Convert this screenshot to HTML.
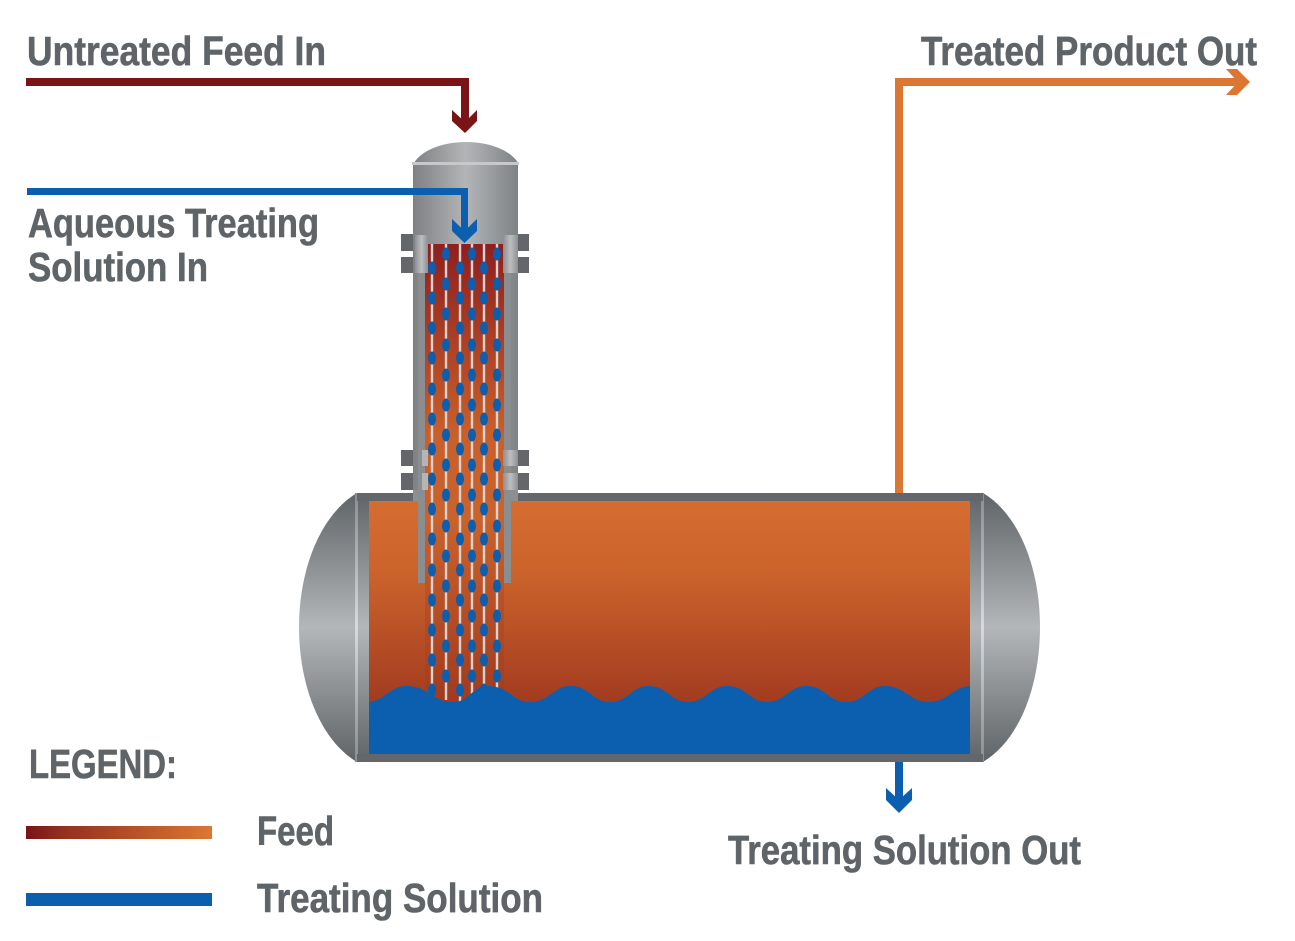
<!DOCTYPE html>
<html>
<head>
<meta charset="utf-8">
<style>
html,body{margin:0;padding:0;background:#fff;}
svg{display:block;}
text{font-family:"Liberation Sans",sans-serif;font-weight:700;font-size:41px;fill:#5f6468;stroke:#5f6468;stroke-width:.6px;}
</style>
</head>
<body>
<svg width="1295" height="941" viewBox="0 0 1295 941" xmlns="http://www.w3.org/2000/svg">
<defs>
<linearGradient id="cap" x1="0" y1="493" x2="0" y2="762" gradientUnits="userSpaceOnUse">
<stop offset="0" stop-color="#5f6468"/><stop offset=".5" stop-color="#b4b7b9"/><stop offset="1" stop-color="#5f6468"/>
</linearGradient>
<linearGradient id="hl" x1="0" y1="493" x2="0" y2="762" gradientUnits="userSpaceOnUse">
<stop offset="0" stop-color="#8a8e91"/><stop offset=".5" stop-color="#d8dadb"/><stop offset="1" stop-color="#8a8e91"/>
</linearGradient>
<linearGradient id="col" x1="414" y1="0" x2="518" y2="0" gradientUnits="userSpaceOnUse">
<stop offset="0" stop-color="#7f8285"/><stop offset=".5" stop-color="#b3b5b7"/><stop offset="1" stop-color="#7f8285"/>
</linearGradient>
<linearGradient id="tank" x1="0" y1="501" x2="0" y2="705" gradientUnits="userSpaceOnUse">
<stop offset="0" stop-color="#d56c30"/><stop offset=".35" stop-color="#cb632c"/><stop offset="1" stop-color="#a23b1f"/>
</linearGradient>
<linearGradient id="inner" x1="0" y1="244" x2="0" y2="700" gradientUnits="userSpaceOnUse">
<stop offset="0" stop-color="#8f1f1e"/><stop offset=".42" stop-color="#c95f2a"/><stop offset=".6" stop-color="#ca622c"/><stop offset="1" stop-color="#a23b1f"/>
</linearGradient>
<linearGradient id="legend" x1="26" y1="0" x2="212" y2="0" gradientUnits="userSpaceOnUse">
<stop offset="0" stop-color="#7a1416"/><stop offset=".2" stop-color="#94301f"/><stop offset="1" stop-color="#dc7733"/>
</linearGradient>
<linearGradient id="fl" x1="0" y1="0" x2="1" y2="0">
<stop offset="0" stop-color="#8d9093"/><stop offset=".5" stop-color="#bdbfc1"/><stop offset="1" stop-color="#8d9093"/>
</linearGradient>
<clipPath id="inclip"><rect x="425" y="244" width="79" height="470"/></clipPath>
<ellipse id="d" rx="4" ry="6.500" fill="#0b5fae"/>
<g id="a">
<use href="#d" y="268"/><use href="#d" y="298"/><use href="#d" y="328"/><use href="#d" y="358"/><use href="#d" y="389"/><use href="#d" y="419"/><use href="#d" y="449"/><use href="#d" y="479"/><use href="#d" y="509"/><use href="#d" y="539"/><use href="#d" y="570"/><use href="#d" y="600"/><use href="#d" y="630"/><use href="#d" y="660"/><use href="#d" y="690"/>
</g>
<g id="b">
<use href="#d" y="254"/><use href="#d" y="284"/><use href="#d" y="314"/><use href="#d" y="345"/><use href="#d" y="375"/><use href="#d" y="405"/><use href="#d" y="435"/><use href="#d" y="465"/><use href="#d" y="495"/><use href="#d" y="526"/><use href="#d" y="556"/><use href="#d" y="586"/><use href="#d" y="616"/><use href="#d" y="646"/><use href="#d" y="676"/>
</g>
</defs>

<!-- Flanges -->
<g fill="#63676b">
<rect x="401" y="234" width="16" height="17"/><rect x="401" y="257" width="16" height="16"/>
<rect x="515" y="234" width="14" height="17"/><rect x="515" y="257" width="14" height="16"/>
<rect x="401" y="450" width="16" height="16"/><rect x="401" y="473" width="16" height="17"/>
<rect x="515" y="450" width="14" height="16"/><rect x="515" y="473" width="14" height="17"/>
</g>

<!-- Column -->
<rect x="413" y="163" width="105" height="332" fill="url(#col)"/>
<path d="M414 163C420 152 440 142 466 142C492 142 512 152 518 163Z" fill="url(#col)"/>
<rect x="412" y="162" width="107" height="3" fill="#c6c8c9"/>

<!-- Tank caps -->
<path d="M357 493C320 515 299 570 299 627C299 685 320 740 357 762Z" fill="url(#cap)"/>
<path d="M983 493C1020 515 1040 570 1040 627C1040 685 1020 740 983 762Z" fill="url(#cap)"/>
<rect x="357" y="493" width="13" height="269" fill="url(#cap)"/>
<rect x="970" y="493" width="13" height="269" fill="url(#cap)"/>
<rect x="355" y="493" width="3" height="269" fill="url(#hl)"/>
<rect x="981" y="493" width="3" height="269" fill="url(#hl)"/>

<!-- Tank body -->
<rect x="357" y="493" width="626" height="8" fill="#63676c"/>
<rect x="357" y="754" width="626" height="8" fill="#63676c"/>
<rect x="369" y="501" width="601" height="253" fill="url(#tank)"/>

<!-- Column lower wall over tank top stripe -->
<rect x="413" y="490" width="12" height="11" fill="#8d9093"/>
<rect x="504" y="490" width="14" height="11" fill="#8d9093"/>

<!-- Column interior -->
<rect x="425" y="244" width="79" height="470" fill="url(#inner)"/>
<rect x="418" y="273" width="7" height="310" fill="#8b8e91"/>
<rect x="504" y="273" width="7" height="310" fill="#8b8e91"/>

<!-- Flange collars -->
<rect x="415" y="235" width="13" height="38" fill="url(#fl)"/>
<rect x="503" y="235" width="15" height="38" fill="url(#fl)"/>
<rect x="422" y="450" width="6" height="16" fill="#b3b5b7"/>
<rect x="422" y="473" width="6" height="17" fill="#b3b5b7"/>
<rect x="503" y="450" width="15" height="16" fill="url(#fl)"/>
<rect x="503" y="473" width="15" height="17" fill="url(#fl)"/>

<!-- Droplet lines -->
<g clip-path="url(#inclip)">
<path d="M432 244V700M446 244V700M460 244V704M472 244V700M484 244V700M497 244V700" stroke="#d9d3d0" stroke-width="2.4" fill="none"/>
<use href="#a" x="432"/>
<use href="#b" x="446"/>
<use href="#a" x="460"/>
<use href="#b" x="472"/>
<use href="#a" x="484"/>
<use href="#b" x="497"/>
</g>

<!-- Liquid -->
<path d="M369 702C385 700 390 686 407 686C428 686 432 702 453 702C470 702 472 686 487 686C510 686 512 702 530 702C550 702 553 686 570 686C590 686 592 702 610 702C628 702 632 686 648 686C668 686 670 702 688 702C706 702 710 686 727 686C747 686 749 702 767 702C785 702 789 686 806 686C826 686 828 702 846 702C864 702 868 686 885 686C905 686 910 702 928 702C948 702 952 687 970 686V754H369Z" fill="#0b5fae"/>

<!-- Feed in -->
<path d="M26 78H469V124H461V86H26Z" fill="#7a1416"/>
<path d="M452 110L465 122L477 110V121L465 133L452 121Z" fill="#7a1416"/>

<!-- Aqueous in -->
<path d="M27 188H468V232H461V195H27Z" fill="#0b5fae"/>
<path d="M452 219L464.500 231L477 219V231L464.500 243L452 231Z" fill="#0b5fae"/>

<!-- Product out -->
<path d="M895 493V78H1240V86H903V493Z" fill="#dc7733"/>
<path d="M1226 69H1237L1250 82L1237 95H1226L1238 82Z" fill="#dc7733"/>

<!-- Treating solution out -->
<rect x="895" y="762" width="8" height="42" fill="#0b5fae"/>
<path d="M886 788L899 800L912 788V800L899 813L886 800Z" fill="#0b5fae"/>

<!-- Labels -->
<text x="27" y="65" textLength="299" lengthAdjust="spacingAndGlyphs">Untreated Feed In</text>
<text x="921" y="65" textLength="336" lengthAdjust="spacingAndGlyphs">Treated Product Out</text>
<text x="28" y="237" textLength="291" lengthAdjust="spacingAndGlyphs">Aqueous Treating</text>
<text x="28" y="281" textLength="180" lengthAdjust="spacingAndGlyphs">Solution In</text>
<text x="29" y="778" textLength="148" lengthAdjust="spacingAndGlyphs">LEGEND:</text>
<text x="257" y="845" textLength="77" lengthAdjust="spacingAndGlyphs">Feed</text>
<text x="257" y="912" textLength="286" lengthAdjust="spacingAndGlyphs">Treating Solution</text>
<text x="728" y="864" textLength="353" lengthAdjust="spacingAndGlyphs">Treating Solution Out</text>

<!-- Legend bars -->
<rect x="26" y="826" width="186" height="13" fill="url(#legend)"/>
<rect x="26" y="893" width="186" height="13" fill="#0b5fae"/>
</svg>
</body>
</html>
